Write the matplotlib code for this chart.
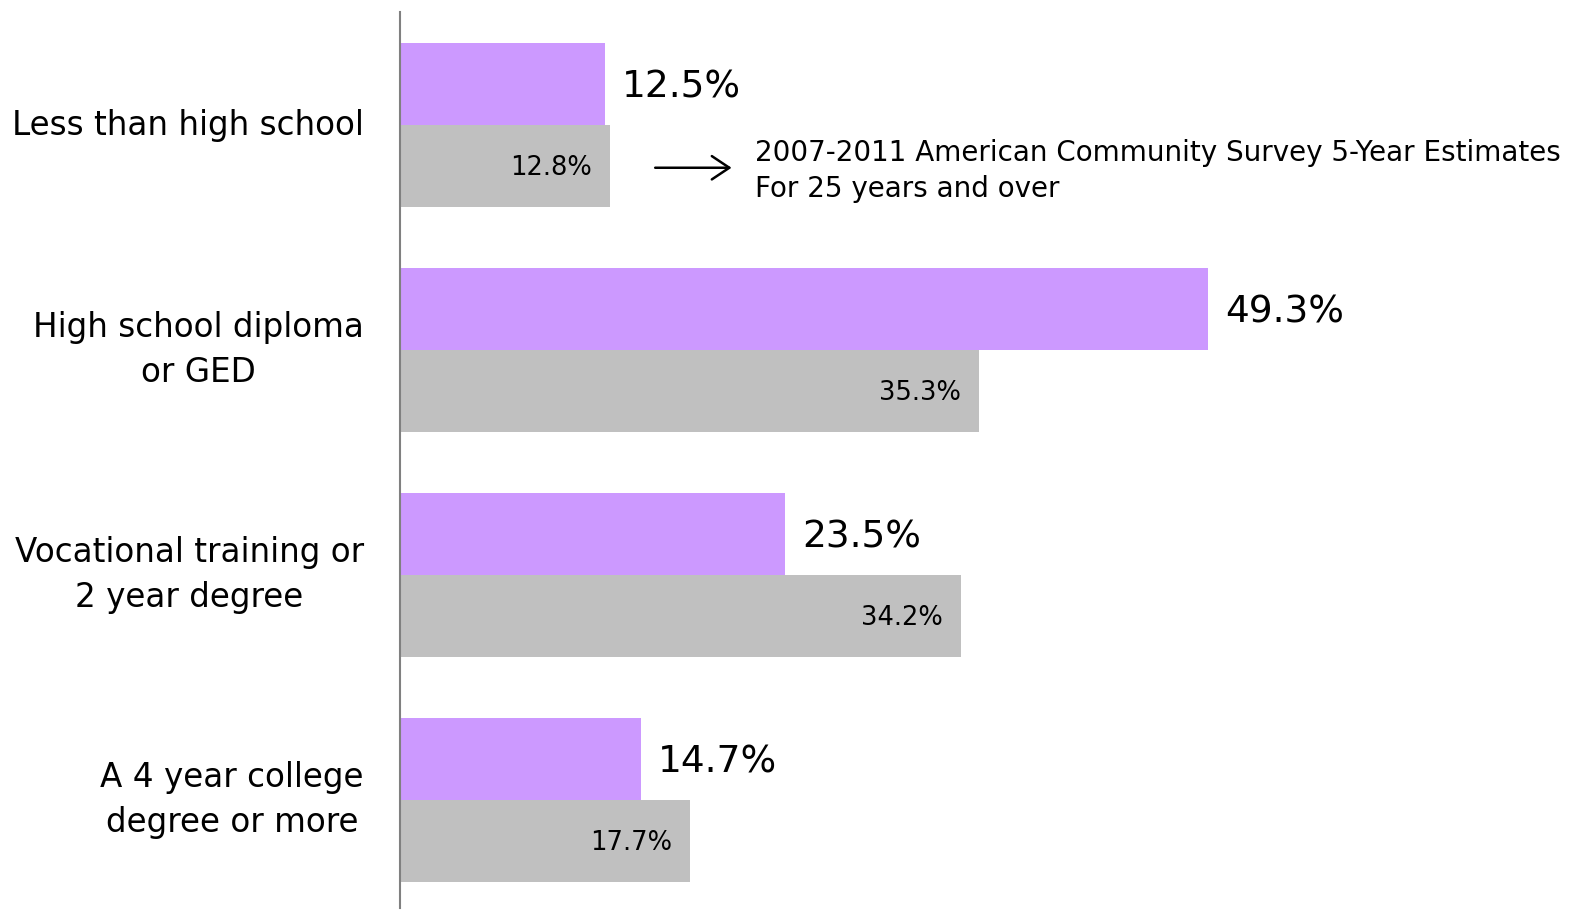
import numpy as np
import matplotlib.pyplot as plt
from matplotlib.transforms import offset_copy

# education levels
categories = ["Less than high school", "High school diploma\nor GED",
              "Vocational training or\n2 year degree", "A 4 year college\ndegree or more"]
survey_pct = [12.5, 49.3, 23.5, 14.7]   # purple bars
acs_pct = [12.8, 35.3, 34.2, 17.7]      # gray bars (ACS 2007-2011)

purple = "#CC99FF"
gray = "#C0C0C0"

plt.rcParams['font.family'] = ['DejaVu Sans']

fig = plt.figure(figsize=(15.85, 9.18), dpi=100)
ax = fig.add_axes([400 / 1585, 10 / 918, 1185 / 1585, 896 / 918])

y = np.arange(len(categories))
h = 0.366
ax.barh(y - h / 2, survey_pct, height=h, color=purple, edgecolor='none')
ax.barh(y + h / 2, acs_pct, height=h, color=gray, edgecolor='none')

ax.set_xlim(0, 1185 / 16.39)
ax.set_ylim(3 + 108 / 225, -113 / 225)

# value labels
for i, (p, g) in enumerate(zip(survey_pct, acs_pct)):
    tr = offset_copy(ax.transData, fig=fig, x=12, y=-3, units='points')
    ax.text(p, i - h / 2, f"{p}%", transform=tr, ha='left', va='center', fontsize=27)
    tr2 = offset_copy(ax.transData, fig=fig, x=-13, y=-1, units='points')
    ax.text(g, i + h / 2, f"{g}%", transform=tr2, ha='right', va='center', fontsize=18.5)

# category labels
for i, c in enumerate(categories):
    ax.text(-36 / 16.39, i, c, ha='right', va='center', multialignment='center',
            fontsize=23.5, linespacing=1.45)

# source note with arrow
ax.annotate("", xy=(20.4, 0.19), xytext=(15.4, 0.19),
            arrowprops=dict(arrowstyle='->, head_length=0.45, head_width=0.3',
                            color='black', lw=1.8, mutation_scale=28))
ax.text(21.66, 0.205, "2007-2011 American Community Survey 5-Year Estimates\nFor 25 years and over",
        ha='left', va='center', fontsize=20, linespacing=1.38)

for s in ['top', 'right', 'bottom']:
    ax.spines[s].set_visible(False)
ax.spines['left'].set_color('#808080')
ax.spines['left'].set_linewidth(1.5)
ax.set_xticks([])
ax.set_yticks([])

fig.savefig("out.png", dpi=100)
